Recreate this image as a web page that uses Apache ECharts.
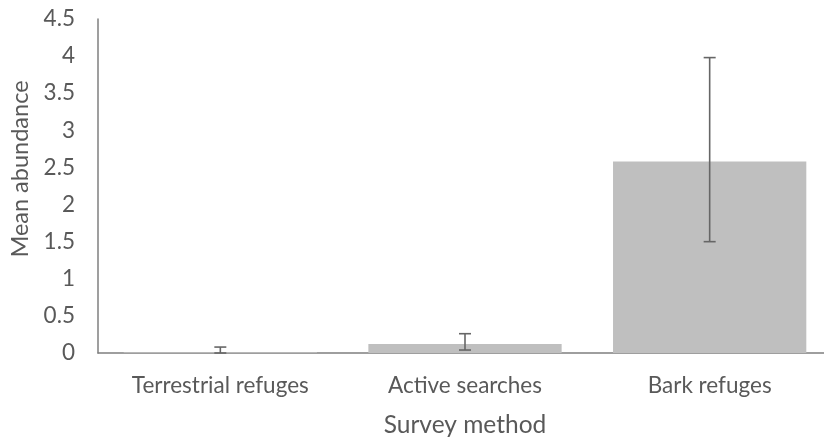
<!DOCTYPE html>
<html><head><meta charset="utf-8">
<script src="https://cdn.jsdelivr.net/npm/echarts@6/dist/echarts.min.js"></script>
<style>html,body{margin:0;padding:0;background:#fff}#c{width:824px;height:443px}</style>
</head><body><div id="c"></div>
<script>
const categories = ['Terrestrial refuges', 'Active searches', 'Bark refuges'];
const means = [0.01, 0.12, 2.58];
const errLow = [0.0, 0.04, 1.5];
const errHigh = [0.08, 0.26, 3.98];
const yTicks = {min: 0, max: 4.5, interval: 0.5};

const chart = echarts.init(document.getElementById('c'), null, {renderer: 'canvas'});
const font = 'Lato, "Open Sans", sans-serif';
chart.setOption({
  animation: false,
  grid: {left: 98, width: 734, top: 19, height: 334, outerBoundsMode: 'none', containLabel: false},
  xAxis: {
    type: 'category', data: categories,
    name: 'Survey method', nameLocation: 'middle', nameGap: 60,
    nameTextStyle: {fontFamily: font, fontSize: 24.5, color: '#595959'},
    axisLine: {lineStyle: {color: '#7f7f7f', width: 1.5}},
    axisTick: {show: false},
    axisLabel: {fontFamily: font, fontSize: 22.5, color: '#595959', margin: 21}
  },
  yAxis: {
    type: 'value', min: yTicks.min, max: yTicks.max, interval: yTicks.interval,
    name: 'Mean abundance', nameLocation: 'middle', nameGap: 61,
    nameTextStyle: {fontFamily: font, fontSize: 23.5, color: '#595959', padding: [0, 0, 0, 34]},
    axisLine: {show: true, lineStyle: {color: '#7f7f7f', width: 1.5}},
    axisTick: {show: false},
    splitLine: {show: false},
    axisLabel: {fontFamily: font, fontSize: 22.5, color: '#595959', margin: 23}
  },
  series: [
    {type: 'bar', data: means, barCategoryGap: '21%',
     itemStyle: {color: '#bfbfbf'}},
    {type: 'custom', z: 10,
     data: categories.map((c, i) => [i, errLow[i], errHigh[i]]),
     renderItem: function (params, api) {
       const lo = api.coord([api.value(0), api.value(1)]);
       const hi = api.coord([api.value(0), api.value(2)]);
       const hw = 6;
       const style = {stroke: '#666666', lineWidth: 1.6};
       return {type: 'group', children: [
         {type: 'line', shape: {x1: hi[0], y1: hi[1], x2: lo[0], y2: lo[1]}, style},
         {type: 'line', shape: {x1: hi[0]-hw, y1: hi[1], x2: hi[0]+hw, y2: hi[1]}, style},
         {type: 'line', shape: {x1: lo[0]-hw, y1: lo[1], x2: lo[0]+hw, y2: lo[1]}, style}
       ]};
     }}
  ]
});
</script></body></html>
